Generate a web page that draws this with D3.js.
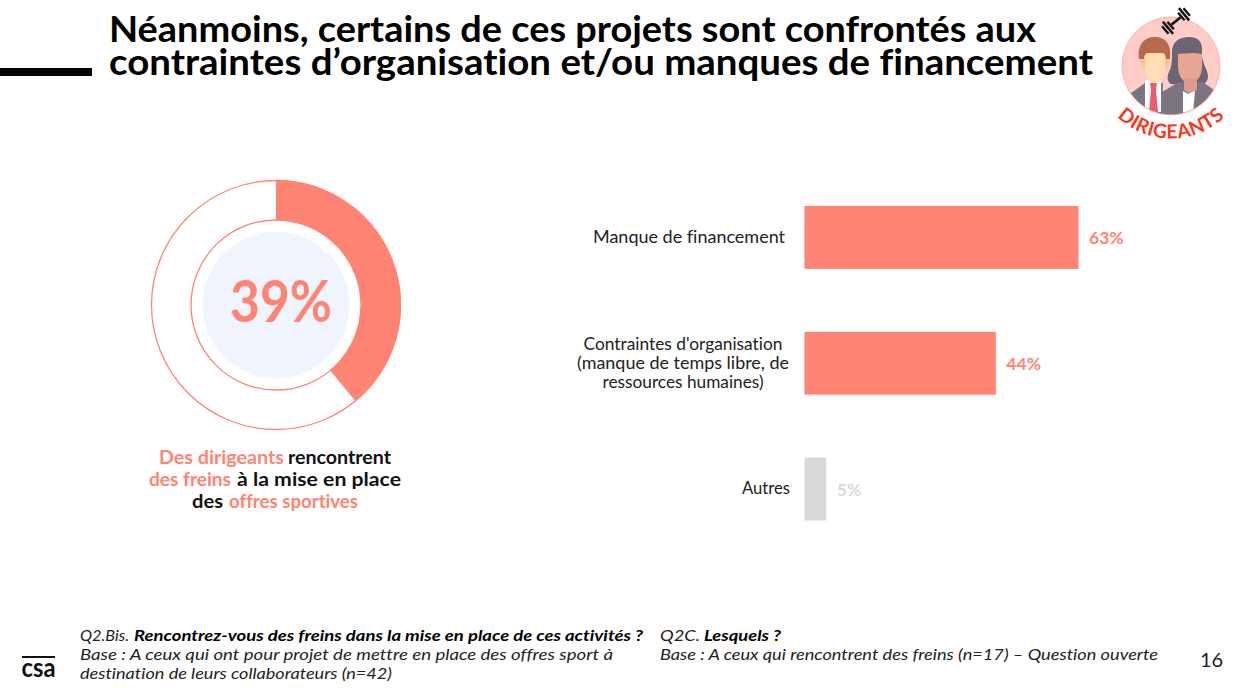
<!DOCTYPE html>
<html><head><meta charset="utf-8">
<script src="https://cdn.jsdelivr.net/npm/d3@7"></script>
<style>html,body{margin:0;padding:0;background:#fff}svg{display:block}text{font-family:Lato,"Open Sans",sans-serif;font-variant-ligatures:none}</style>
</head><body><svg id="c" width="1238" height="688"></svg>
<script>
const titleLines=["Néanmoins, certains de ces projets sont confrontés aux","contraintes d’organisation et/ou manques de financement"];
const donutShare=[39,61];
const donutLabel="39%";
const barCategories=[["Manque de financement"],["Contraintes d'organisation","(manque de temps libre, de","ressources humaines)"],["Autres"]];
const barValues=[63,44,5];
const barColors=["#FF8474","#FF8474","#D9D9D9"];
const valueColors=["#FF8474","#FF8474","#D9D9D9"];
const captionText=[["Des dirigeants","rencontrent"],["des freins","à la mise en place"],["des","offres sportives"]];
const captionAccent=[[1,0],[1,0],[0,1]];
const footLeft=[["Q2.Bis.","Rencontrez-vous des freins dans la mise en place de ces activités ?"],["Base : A ceux qui ont pour projet de mettre en place des offres sport à"],["destination de leurs collaborateurs (n=42)"]];
const footRight=[["Q2C.","Lesquels ?"],["Base : A ceux qui rencontrent des freins (n=17) – Question ouverte"]];
const pageNumber="16";
const coral="#FF8474";
const svg=d3.select("#c");
function fit(sel,w){return sel.attr("textLength",w).attr("lengthAdjust","spacingAndGlyphs");}
// title
svg.append("rect").attr("x",0).attr("y",68).attr("width",92).attr("height",8).attr("fill","#000");
const titleW=[927,984];
titleLines.forEach((t,i)=>fit(svg.append("text").attr("x",109).attr("y",[42,75][i]).attr("font-size",37).attr("font-weight",700).attr("fill","#000"),titleW[i]).text(t));
// donut
const cx=276,cy=305,rO=125,rI=85;
const g=svg.append("g").attr("transform",`translate(${cx},${cy})`);
g.append("circle").attr("r",rO-.5).attr("fill","none").attr("stroke",coral).attr("stroke-width",1.3);
g.append("circle").attr("r",rI).attr("fill","none").attr("stroke",coral).attr("stroke-width",1.3);
g.append("circle").attr("r",73.5).attr("fill","#F0F5FD");
const pie=d3.pie().sort(null)(donutShare);
g.append("path").attr("d",d3.arc().innerRadius(rI).outerRadius(rO)(pie[0])).attr("fill",coral);
fit(g.append("text").attr("x",5).attr("y",17).attr("text-anchor","middle").attr("font-size",58).attr("font-weight",700).attr("fill",coral),102).text(donutLabel);
// caption
const capX=[[159,288],[149,237],[192,229]],capWd=[[125,103],[82,164],[31,129]],capY=[464,486,508];
captionText.forEach((line,i)=>line.forEach((s,j)=>fit(svg.append("text").attr("x",capX[i][j]).attr("y",capY[i]).attr("font-size",19).attr("font-weight",700).attr("fill",captionAccent[i][j]?coral:"#111"),capWd[i][j]).text(s)));
// bars
const x=d3.scaleLinear().domain([0,63]).range([804.5,1078.5]);
const y=d3.scaleBand().domain(d3.range(barValues.length)).range([206,520.5]).paddingInner(0.5).paddingOuter(0);
svg.selectAll(".bar").data(barValues).join("rect").attr("class","bar").attr("x",x(0)).attr("y",(d,i)=>y(i)).attr("width",d=>x(d)-x(0)).attr("height",y.bandwidth()).attr("fill",(d,i)=>barColors[i]);
svg.selectAll(".val").data(barValues).join("text").attr("class","val").attr("x",d=>x(d)+10.5).attr("y",(d,i)=>y(i)+y.bandwidth()/2+7).attr("font-size",17.5).attr("font-weight",700).attr("fill",(d,i)=>valueColors[i]).text(d=>d+"%");
const catX=[689,683,766],catY=[[243],[350,369,388],[494]],catW=[[192],[199,212,161],[48]];
barCategories.forEach((ls,i)=>ls.forEach((l,j)=>fit(svg.append("text").attr("x",catX[i]).attr("y",catY[i][j]).attr("text-anchor","middle").attr("font-size",17).attr("fill","#222"),catW[i][j]).text(l)));
// footnotes
function foot(lines,xs,ys,ws){lines.forEach((line,i)=>line.forEach((s,j)=>{const bold=j===1;
 fit(svg.append("text").attr("x",xs[i][j]).attr("y",ys[i]).attr("font-size",16).attr("font-style","italic").attr("font-weight",bold?700:400).attr("fill",bold?"#000":"#222"),ws[i][j]).text(s);}));}
foot(footLeft,[[80,134],[80],[80]],[641,660,679],[[49,509],[533],[312]]);
foot(footRight,[[660,704],[660]],[641,660],[[40,77],[498]]);
svg.append("text").attr("x",1211.5).attr("y",667).attr("text-anchor","middle").attr("font-size",20).attr("fill","#222").text(pageNumber);
// csa logo
svg.append("rect").attr("x",22).attr("y",656).attr("width",33).attr("height",2).attr("fill","#111");
fit(svg.append("text").attr("x",38.5).attr("y",677).attr("text-anchor","middle").attr("font-size",27).attr("font-weight",700).attr("fill","#111"),34).text("csa");
// persona badge
const b=svg.append("g").attr("transform","translate(1171,66)");
b.append("circle").attr("r",49).attr("fill","#FFCCC8").attr("stroke","#FFB3AC").attr("stroke-width",1);
const defs=svg.append("defs");
defs.append("clipPath").attr("id","bc").append("circle").attr("r",48.5);
const p=b.append("g").attr("clip-path","url(#bc)");
// woman
p.append("path").attr("d","M1,-14 C1,-24 8,-29 18,-29 C28,-29 32,-24 31,-12 C31,-2 37,4 37,10 C37,18 30,20 24,18 L4,18 C-3,20 -5,12 -2,6 C1,0 1,-6 1,-14Z").attr("fill","#6C6472");
p.append("path").attr("d","M-11,50 L-9,26 L8,16 L32,16 L43,24 L46,50Z").attr("fill","#7C7480");
p.append("path").attr("d","M7,-12 C12,-12 22,-14 31,-12 L31,2 C30,12 25,17 19,17 C13,17 8,12 7,2Z").attr("fill","#E8A592");
p.append("path").attr("d","M13,12 L26,12 L26,24 L19,28 L13,24Z").attr("fill","#DC9B8A");
p.append("path").attr("d","M12,25 L17,28 L24,25 L22,48 L12,48Z").attr("fill","#FFF");
// man
p.append("path").attr("d","M-44,30 L-26,17 L-8,17 L-9,50 L-44,50Z").attr("fill","#7C7480");
p.append("path").attr("d","M-26,14 L-10,14 L-10,46 L-26,46Z").attr("fill","#FFF");
p.append("path").attr("d","M-21,17 L-14,17 L-15,24 L-13,46 L-22,46 L-20,24Z").attr("fill","#EE5A6E");
p.append("ellipse").attr("cx",-27).attr("cy",-4).attr("rx",4).attr("ry",5.5).attr("fill","#FFC48A");
p.append("ellipse").attr("cx",-5).attr("cy",-4).attr("rx",4).attr("ry",5.5).attr("fill","#FFC48A");
p.append("path").attr("d","M-26,-16 L-6,-16 L-6,6 C-7,12 -12,17 -16,17 C-21,17 -25,12 -26,6Z").attr("fill","#FFDDB5");
p.append("path").attr("d","M-32,-7 C-34,-22 -26,-29 -16,-29 C-6,-29 1,-22 -1,-7 L-5,-7 C-5,-11 -7,-13 -9,-13 L-23,-13 C-25,-13 -27,-11 -27,-7Z").attr("fill","#B5694D");
// dumbbell
const db=b.append("g").attr("transform","translate(5,-45) rotate(-40)").attr("fill","#111");
[[-14,10],[-10.5,16],[-7,10],[7,10],[10.5,16],[14,10]].forEach(([xx,h])=>db.append("rect").attr("x",xx-1.2).attr("y",-h/2).attr("width",2.4).attr("height",h));
db.append("rect").attr("x",-6).attr("y",-1.3).attr("width",12).attr("height",2.6);
// curved label
defs.append("path").attr("id","arcT").attr("d","M-66,36 A78,78 0 0,0 66,36");
b.append("text").attr("font-size",19.5).attr("font-weight",700).attr("fill","#F8391F").append("textPath").attr("href","#arcT").attr("startOffset","50%").attr("text-anchor","middle").attr("letter-spacing",0.4).text("DIRIGEANTS");
</script></body></html>
